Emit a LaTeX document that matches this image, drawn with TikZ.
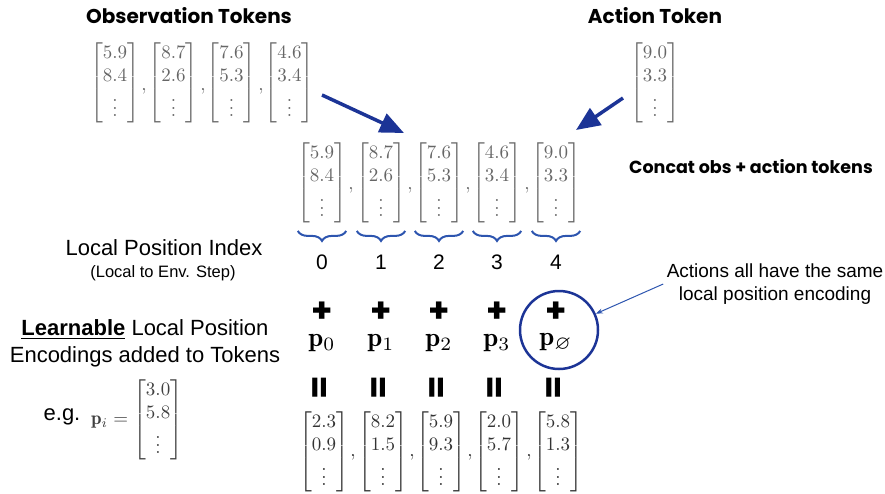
\documentclass[tikz,border=0pt]{standalone}
\usepackage{amsmath}
\usepackage{amssymb}
\usepackage{fontspec}
\usepackage{tikz}
\usetikzlibrary{arrows.meta,decorations.pathreplacing,positioning}
\newfontfamily\arialf{Liberation Sans}
\newfontfamily\headf{Poppins}
\definecolor{darkblue}{RGB}{28,52,150}
\definecolor{bracecol}{RGB}{45,85,175}
\newcommand{\tok}[2]{$\begin{bmatrix}#1\\#2\\\vdots\end{bmatrix}$}

\begin{document}
\begin{tikzpicture}[x=1pt, y=-1pt,
  mat/.style={scale=1.9, inner sep=0pt, text=black!60},
  outmat/.style={mat, text=black!80},
  comma/.style={scale=1.9, inner sep=0pt, text=black!60},
  head/.style={font=\headf\bfseries\fontsize{20}{24}\selectfont},
  plain/.style={font=\arialf\fontsize{22}{27}\selectfont, align=center},
  sym/.style={font=\headf\bfseries\fontsize{34}{34}\selectfont, inner sep=0pt},
  penc/.style={scale=2.7, inner sep=0pt},
  bigarrow/.style={darkblue, line width=3.5pt, -{Triangle[length=24pt,width=20pt]}},
  idxbrace/.style={decorate, decoration={brace, mirror, amplitude=10pt}, bracecol, line width=2pt}
%    top color=white, bottom color=blue!20
  ]
  \useasboundingbox (0,0) rectangle (885,493);

  \node[head] (obsh) at (189,16) {Observation Tokens};
  \node[head] (acth) at (655,16) {Action Token};

  \node[mat] (o0) at (115,83) {\tok{5.9}{8.4}};
  \node[mat] (o1) at (173.5,83) {\tok{8.7}{2.6}};
  \node[mat] (o2) at (231.5,83) {\tok{7.6}{5.3}};
  \node[mat] (o3) at (289.5,83) {\tok{4.6}{3.4}};
  \node[comma] (ok0) at (144,91) {$,$};
  \node[comma] (ok1) at (203,91) {$,$};
  \node[comma] (ok2) at (261,91) {$,$};
  \node[mat] (act) at (655,83) {\tok{9.0}{3.3}};

  \coordinate (obsfrom) at (322,95);
  \coordinate (obsto) at (404,133);
  \coordinate (actfrom) at (623,98);
  \coordinate (actto) at (576,130);
  \draw[bigarrow] (obsfrom) -- (obsto);
  \draw[bigarrow] (actfrom) -- (actto);

  \node[head, font=\headf\bfseries\fontsize{17.5}{21}\selectfont] (cat) at (751,167) {Concat obs + action tokens};

  \foreach \x/\a/\b/\c/\d/\n/\s in {322/5.9/8.4/2.3/0.9/0/0, 381/8.7/2.6/8.2/1.5/1/1,
      439/7.6/5.3/5.9/9.3/2/2, 497/4.6/3.4/2.0/5.7/3/3, 556/9.0/3.3/5.8/1.3/4/\varnothing} {
    \node[mat] (c\n) at (\x,183) {\tok{\a}{\b}};
    \draw[idxbrace] ([xshift=1pt,yshift=-7pt]c\n.south west) -- ([xshift=-1pt,yshift=-7pt]c\n.south east);
    \node[plain, font=\arialf\fontsize{21}{24}\selectfont] (i\n) at (\x,262) {\n};
    \node[sym] (plus\n) at (\x,312) {+};
    \node[penc] (p\n) at (\x,343) {$\mathbf{p}_{\s}$};
    \node[sym, rotate=90] (eq\n) at (\x,388) {=};
    \node[outmat] (r\n) at (\x+2,452) {\tok{\c}{\d}};
  }
  \foreach \x in {351,410,468,527} {
    \node[comma] (mk\x) at (\x,190) {$,$};
    \node[comma, text=black!80] (rk\x) at (\x+2,457) {$,$};
  }

  \node[plain] (lpi) at (164,248) {Local Position Index};
  \node[plain, font=\arialf\fontsize{16.5}{18}\selectfont] (lpis) at (163,273) {(Local to Env. Step)};
  \node[plain] (lle) at (145,343) {\underline{\textbf{Learnable}} Local Position\\Encodings added to Tokens};
  \node[plain] (eg) at (62,417) {e.g.};
  \node[mat, text=black!75] (pi) at (137,420) {$\mathbf{p}_i = \begin{bmatrix}3.0\\5.8\\\vdots\end{bmatrix}$};

  \node[draw=darkblue, line width=2.5pt, circle, minimum size=78pt] (ring) at (559,330) {};
  \node[plain, font=\arialf\fontsize{19}{23}\selectfont] (note) at (775,284) {Actions all have the same\\local position encoding};
  \draw[bracecol, line width=1pt, -{Stealth[length=7pt,width=5pt]}] (note.west) -- (ring);
\end{tikzpicture}
\end{document}
